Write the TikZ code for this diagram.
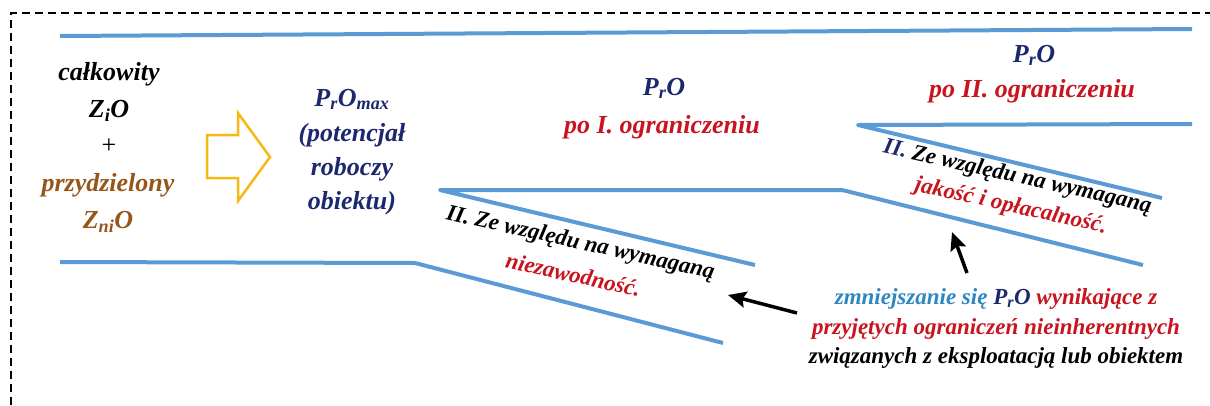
\documentclass[tikz,border=0pt]{standalone}
\usepackage{fontspec}
\setmainfont{Liberation Serif}
\usetikzlibrary{arrows.meta}
\definecolor{lineblue}{RGB}{91,155,213}
\definecolor{navy}{RGB}{28,40,110}
\definecolor{dred}{RGB}{200,20,30}
\definecolor{brn}{RGB}{150,85,25}
\definecolor{sblue}{RGB}{46,134,193}
\definecolor{gold}{RGB}{245,185,20}
\begin{document}
\begin{tikzpicture}[x=1pt,y=-1pt,
  bl/.style={draw=lineblue, line width=4pt, line join=round},
  big/.style={inner sep=0pt, anchor=base, font=\fontsize{26}{30}\selectfont\bfseries\itshape},
  rot/.style={inner sep=0pt, anchor=center, align=center, rotate=-12.6},
  small/.style={inner sep=0pt, anchor=base, font=\fontsize{23}{27}\selectfont\bfseries\itshape},
  blackarrow/.style={line width=3.5pt, -{Stealth[length=18pt,width=16pt,inset=3pt]}},
  frame/.style={line width=1.5pt, dash pattern=on 8pt off 5pt}]
\useasboundingbox (0,0) rectangle (1210,405);
% frame
\draw[frame] (11,405) -- (11,13) -- (1210,13);
% blue channel lines
\coordinate (t1) at (60,36);
\coordinate (t2) at (1192,29);
\draw[bl] (t1) -- (t2);
\coordinate (l1) at (60,262);
\coordinate (l2) at (415,263);
\coordinate (l3) at (723,343);
\draw[bl] (l1) -- (l2) -- (l3);
\coordinate (m0) at (440,190);
\coordinate (m1) at (842,190);
\coordinate (m2) at (1143,265);
\coordinate (m3) at (755,265);
\draw[bl] (m2) -- (m1) -- (m0) -- (m3);
\coordinate (r0) at (858,125);
\coordinate (r1) at (1192,124);
\coordinate (r2) at (1162,198);
\draw[bl] (r1) -- (r0) -- (r2);
% yellow block arrow
\draw[draw=gold, line width=2.5pt, line join=miter] (207,135) -- (238,135) -- (238,113) -- (270,157) -- (238,201) -- (238,178) -- (207,178) -- cycle;
% left text
\node[big] (c1) at (109,80) {całkowity};
\node[big] (c2) at (109,117) {Z\textsubscript{i}O};
\node[big, font=\fontsize{26}{30}\selectfont] (c3) at (109,153) {+};
\node[big, text=brn] (c4) at (108,191) {przydzielony};
\node[big, text=brn] (c5) at (108,228) {Z\textsubscript{ni}O};
% PrOmax
\node[big, text=navy] (p1) at (352,106) {P\textsubscript{r}O\textsubscript{max}};
\node[big, text=navy] (p2) at (352,141) {(potencjał};
\node[big, text=navy] (p3) at (352,175) {roboczy};
\node[big, text=navy] (p4) at (352,209) {obiektu)};
% PrO after I
\node[big, text=navy] (q1) at (664,95) {P\textsubscript{r}O};
\node[big, text=dred] (q2) at (662,133) {po I. ograniczeniu};
% PrO after II
\node[big, text=navy] (s1) at (1034,62) {P\textsubscript{r}O};
\node[big, text=dred] (s2) at (1032,97) {po II. ograniczeniu};
% rotated labels
\node[rot, font=\fontsize{23}{34}\selectfont\bfseries\itshape] (mlab) at (577,258) {II. Ze względu na wymaganą\\\textcolor{dred}{niezawodność.}};
\node[rot, font=\fontsize{23}{30}\selectfont\bfseries\itshape] (rlab) at (1014,192) {\textcolor{navy}{II.} Ze względu na wymaganą\\\textcolor{dred}{jakość i opłacalność.}};
% bottom explanation
\node[small] (b1) at (996,304) {\textcolor{sblue}{zmniejszanie się} \textcolor{navy}{P\textsubscript{r}O} \textcolor{dred}{wynikające z}};
\node[small, text=dred] (b2) at (996,334) {przyjętych ograniczeń nieinherentnych};
\node[small] (b3) at (996,363) {związanych z eksploatacją lub obiektem};
% black arrows
\coordinate (a1s) at (797,313);
\coordinate (a1e) at (728,295);
\coordinate (a2s) at (967,273);
\coordinate (a2e) at (952,232);
\draw[blackarrow] (a1s) -- (a1e);
\draw[blackarrow] (a2s) -- (a2e);
\end{tikzpicture}
\end{document}
